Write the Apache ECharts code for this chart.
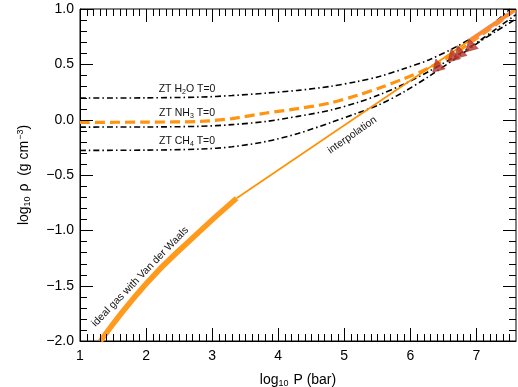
<!DOCTYPE html>
<html><head><meta charset="utf-8">
<script src="https://cdn.jsdelivr.net/npm/echarts@6/dist/echarts.min.js"></script>
<style>html,body{margin:0;padding:0;background:#fff}#c{width:518px;height:387px}</style>
</head><body><div id="c"></div>
<script>
const FONT = '"Liberation Sans", Arial, Helvetica, sans-serif';
// x = log10 P (bar), y = log10 rho (g cm^-3)
const ztH2O = [[1,0.195],[2,0.197],[2.82,0.204],[3.3,0.218],[3.82,0.24],[4.3,0.265],[4.78,0.30],[5.2,0.345],[5.53,0.39],[5.9,0.46],[6.28,0.54],[6.7,0.66],[7.04,0.78],[7.3,0.89],[7.51,1.0]];
const ztNH3 = [[1,-0.067],[2,-0.066],[2.82,-0.06],[3.3,-0.045],[3.82,-0.016],[4.3,0.03],[4.82,0.09],[5.2,0.155],[5.53,0.225],[5.9,0.32],[6.28,0.436],[6.7,0.58],[7.04,0.71],[7.3,0.82],[7.6,0.95]];
const ztCH4 = [[1,-0.278],[2,-0.275],[2.82,-0.266],[3.3,-0.245],[3.82,-0.197],[4.3,-0.125],[4.8,-0.025],[5.2,0.06],[5.53,0.135],[5.9,0.25],[6.28,0.39],[6.7,0.56],[7.04,0.70],[7.3,0.8],[7.6,0.91]];
const mixDashed = [[1,-0.025],[2,-0.022],[2.82,-0.016],[3.3,0.01],[3.82,0.06],[4.3,0.1],[4.78,0.15],[5.2,0.22],[5.53,0.286],[5.9,0.37],[6.28,0.467],[6.7,0.61],[7.04,0.75],[7.3,0.86],[7.6,1.0]];
const interpolation = [[3.37,-0.71],[7.6,1.0]];
const idealGas = [[1.31,-2.0],[2.01,-1.477],[2.72,-1.06],[3.37,-0.71]];
const salmon = [[6.91,0.72],[7.58,0.99]];
const triangles = [[6.41,0.496],[6.64,0.587],[6.74,0.617],[6.91,0.68]];
const xTicks = [1,2,3,4,5,6,7];
const yTicks = [1.0,0.5,0.0,-0.5,-1.0,-1.5,-2.0];
const notes = [
  {pos:[2.62,0.28], text:'{a|ZT H}{s|2}{a|O T=0}', rot:0},
  {pos:[2.62,0.062], text:'{a|ZT NH}{s|3}{a| T=0}', rot:0},
  {pos:[2.62,-0.19], text:'{a|ZT CH}{s|4}{a| T=0}', rot:0},
  {pos:[5.12,-0.14], text:'{a|interpolation}', rot:35},
  {pos:[1.91,-1.42], text:'{a|ideal gas with Van der Waals}', rot:46}
];
const X_MIN = 1, X_MAX = 7.6, Y_MIN = -2, Y_MAX = 1;

// minor tick positions (every 0.1, between the labelled ticks)
const xMinor = []; for (let i = 11; i <= 75; i++) if (i % 10) xMinor.push(i / 10);
const yMinor = []; for (let i = -19; i <= 9; i++) if (i % 5) yMinor.push(i / 10);
const tickData = [
  ...xTicks.map(v => [0, v, 13]), ...xMinor.map(v => [0, v, 7]),
  ...yTicks.map(v => [1, v, 13]), ...yMinor.map(v => [1, v, 7])
];

const chart = echarts.init(document.getElementById('c'));
const fmtY = v => { const i = yTicks.findIndex(t => Math.abs(t - v) < 1e-6); return i < 0 ? '' : yTicks[i].toFixed(1).replace('-', '\u2212'); };
const fmtX = v => { const i = xTicks.findIndex(t => Math.abs(t - v) < 1e-6); return i < 0 ? '' : String(xTicks[i]); };

function tickSegments(coord, t) {
  const kind = t[0], v = t[1], len = t[2];
  if (kind === 0) {
    const pb = coord([v, Y_MIN]), pt = coord([v, Y_MAX]);
    const x = Math.round(pb[0]) + 0.5;
    return [[x, pb[1], x, pb[1] - len], [x, pt[1], x, pt[1] + len]];
  }
  const pl = coord([X_MIN, v]), pr = coord([X_MAX, v]);
  const y = Math.round(pl[1]) + 0.5;
  return [[pl[0], y, pl[0] + len, y], [pr[0], y, pr[0] - len, y]];
}
function renderTick(params, api) {
  const segs = tickSegments(p => api.coord(p), [api.value(0), api.value(1), api.value(2)]);
  return {type:'group', children: segs.map(s => ({type:'line', shape:{x1:s[0], y1:s[1], x2:s[2], y2:s[3]}, style:{stroke:'#000', lineWidth:1, lineDash:null}}))};
}

const dashDot = [6,3,1.5,3];
const noteSeries = notes.map(n => ({
  type:'scatter', data:[n.pos], symbolSize:1, itemStyle:{opacity:0}, silent:true, z:5,
  label:{show:true, position:'inside', rotate:n.rot, formatter:n.text, opacity:1,
    rich:{a:{fontSize:10.5, fontFamily:FONT, color:'#111'}, s:{fontSize:7, fontFamily:FONT, color:'#111', padding:[6,0,0,0]}}}
}));
chart.setOption({
  animation:false,
  backgroundColor:'#fff',
  grid:{left:80, right:2, top:9, bottom:46, containLabel:false, outerBoundsMode:'none', show:true, borderColor:'#000', borderWidth:1, backgroundColor:'transparent'},
  xAxis:{type:'value', min:X_MIN, max:X_MAX, interval:1, position:'bottom',
    axisLine:{show:true, onZero:false, lineStyle:{color:'#000', width:1}},
    axisTick:{show:false},
    axisLabel:{show:true, formatter:fmtX, color:'#000', fontSize:14, fontFamily:FONT, margin:8},
    splitLine:{show:false},
    name:'{a|log}{s|10}{a| P (bar)}', nameLocation:'middle', nameGap:31,
    nameTextStyle:{rich:{a:{fontSize:14, fontFamily:FONT, color:'#000'}, s:{fontSize:9, fontFamily:FONT, color:'#000', padding:[7,1,0,0]}}}
  },
  yAxis:{type:'value', min:Y_MIN, max:Y_MAX, interval:0.5, position:'left',
    axisLine:{show:true, onZero:false, lineStyle:{color:'#000', width:1}},
    axisTick:{show:false},
    axisLabel:{show:true, formatter:fmtY, color:'#000', fontSize:14, fontFamily:FONT, margin:6},
    splitLine:{show:false},
    name:'{a|log}{s|10}{a| \u03c1  (g cm}{u|\u22123}{a|)}', nameLocation:'middle', nameGap:47, nameRotate:90,
    nameTextStyle:{rich:{a:{fontSize:14, fontFamily:FONT, color:'#000'}, s:{fontSize:9, fontFamily:FONT, color:'#000', padding:[7,1,0,0]}, u:{fontSize:9, fontFamily:FONT, color:'#000', padding:[0,0,8,1]}}}
  },
  series:[
    {type:'line', data:ztH2O, smooth:0.3, symbol:'none', lineStyle:{color:'#000', width:1.6, type:dashDot}},
    {type:'line', data:ztNH3, smooth:0.3, symbol:'none', lineStyle:{color:'#000', width:1.6, type:dashDot}},
    {type:'line', data:ztCH4, smooth:0.3, symbol:'none', lineStyle:{color:'#000', width:1.6, type:dashDot}},
    {type:'line', data:mixDashed, smooth:0.3, symbol:'none', lineStyle:{color:'#ff9410', width:3.2, type:[10,5]}},
    {type:'line', data:salmon, symbol:'none', lineStyle:{color:'#f48a72', width:4}},
    {type:'line', data:interpolation, symbol:'none', lineStyle:{color:'#ff9000', width:1.6}},
    {type:'line', data:idealGas, smooth:true, symbol:'none', lineStyle:{color:'#ff9a1c', width:5.5}},
    {type:'scatter', data:triangles, symbol:'triangle', symbolSize:[13,12], symbolRotate:15, z:4, itemStyle:{color:'#b8362a', borderColor:'#8e2a20', borderWidth:0.5}},
    ...noteSeries,
    {type:'custom', data:tickData, renderItem:renderTick, silent:true, zlevel:1, z:10, clip:false}
  ]
});
// fallback: frame ticks as graphic lines placed through the chart's own axis scales
try {
  const conv = p => chart.convertToPixel({xAxisIndex:0, yAxisIndex:0}, p);
  const lines = [];
  tickData.forEach(t => tickSegments(conv, t).forEach(s => lines.push({
    type:'line', silent:true, zlevel:2, z:100,
    shape:{x1:s[0], y1:s[1], x2:s[2], y2:s[3]}, style:{stroke:'#000', lineWidth:1, lineDash:null}
  })));
  chart.setOption({graphic:{elements:lines}});
} catch (e) {}
</script></body></html>
